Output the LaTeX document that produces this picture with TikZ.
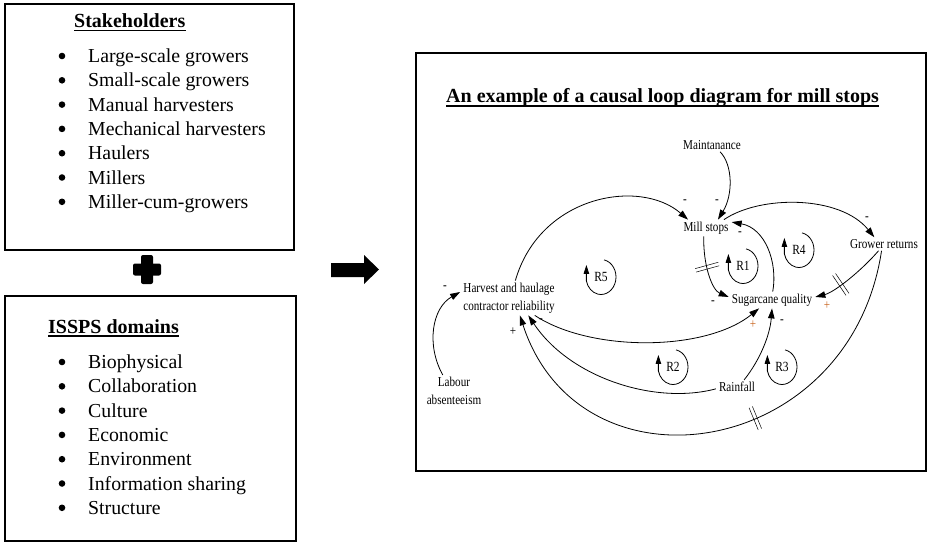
\documentclass[tikz,border=0pt]{standalone}
\usepackage{fontspec}
\setmainfont{Liberation Serif}
\newfontfamily\cldfont[FakeStretch=0.82]{Liberation Serif}
\usetikzlibrary{arrows.meta,decorations.markings}
\definecolor{orng}{RGB}{200,100,30}
\begin{document}
\begin{tikzpicture}[x=1pt,y=1pt,
  boxline/.style={line width=1.3pt},
  listtext/.style={anchor=base west,inner sep=0pt,font=\fontsize{19.8}{24}\selectfont},
  bul/.style={circle,fill=black,inner sep=0pt,minimum size=6.6pt},
  ttl/.style={anchor=base west,inner sep=0pt,font=\bfseries\fontsize{20}{24}\selectfont},
  var/.style={inner xsep=3pt,inner ysep=2pt,align=center,font=\cldfont\fontsize{13.6}{18}\selectfont},
  sgn/.style={inner sep=0pt,font=\cldfont\fontsize{13.6}{16}\selectfont},
  loopl/.style={inner sep=0pt,font=\cldfont\fontsize{14}{16}\selectfont},
  cl/.style={line width=0.8pt,-{Triangle[length=10pt,width=6.5pt]}},
  lp/.style={line width=0.8pt,-{Triangle[length=9pt,width=5.5pt]}},
  dly/.style={postaction={decorate},decoration={markings,
     mark=at position #1 with {\draw[-,line width=0.5pt] (-1.8pt,-12pt)--(-1.8pt,12pt);
                               \draw[-,line width=0.5pt] (1.8pt,-12pt)--(1.8pt,12pt);}}}
]
\useasboundingbox (0,0) rectangle (933,-544);

% ---------- left boxes ----------
\draw[boxline] (5,-4) rectangle (294,-250);
\draw[boxline] (5,-296) rectangle (296,-541);

\node[ttl] (sth) at (74,-27.5) {Stakeholders};
\draw[line width=1.2pt] ([yshift=-3pt]sth.base west) -- ([yshift=-3pt]sth.base east);
\foreach \t [count=\i from 0] in {Large-scale growers,Small-scale growers,Manual harvesters,Mechanical harvesters,Haulers,Millers,Miller-cum-growers}{
  \node[listtext] (st\i) at (88,{-62.5-24.3*\i}) {\t};
  \node[bul] (sb\i) at (62,{-56-24.3*\i}) {};
}

\node[ttl] (ist) at (48,-333) {ISSPS domains};
\draw[line width=1.2pt] ([yshift=-3pt]ist.base west) -- ([yshift=-3pt]ist.base east);
\foreach \t [count=\i from 0] in {Biophysical,Collaboration,Culture,Economic,Environment,Information sharing,Structure}{
  \node[listtext] (is\i) at (88,{-368.5-24.3*\i}) {\t};
  \node[bul] (ib\i) at (62,{-362-24.3*\i}) {};
}

% plus sign
\fill[rounded corners=2pt] (141,-255) rectangle (153,-284);
\fill[rounded corners=2pt] (133,-263.5) rectangle (161,-275.5);

% block arrow
\fill (331,-263) -- (364,-263) -- (364,-255) -- (379,-269.5) -- (364,-284) -- (364,-277) -- (331,-277) -- cycle;

% ---------- right box ----------
\draw[line width=1.6pt] (416,-53) rectangle (926,-471);
\node[ttl] (clt) at (446,-102) {An example of a causal loop diagram for mill stops};
\draw[line width=1.2pt] ([yshift=-4pt]clt.base west) -- ([yshift=-4pt]clt.base east);

% variables
\node[var] (hh) at (509,-298) {Harvest and haulage\\contractor reliability};
\node[var] (la) at (454,-391) {Labour\\absenteeism};
\node[var] (mt) at (712,-145) {Maintanance};
\node[var] (ms) at (706,-228) {Mill stops};
\node[var] (gr) at (884,-244) {Grower returns};
\node[var] (sq) at (772,-300) {Sugarcane quality};
\node[var] (rf) at (737,-387) {Rainfall};

% links
\draw[cl] (la.125) .. controls (426,-345) and (432,-308) .. (hh.173);
\draw[cl] (hh.70) .. controls (540,-195) and (640,-178) .. (ms.155);
\draw[cl] (mt.-40) .. controls (733,-165) and (733,-195) .. (ms.35);
\draw[cl] (ms.25) .. controls (760,-195) and (840,-195) .. (gr.145);
\draw[cl,dly=0.45] (ms.-105) .. controls (703,-265) and (712,-290) .. (sq.176);
\draw[cl] (sq.85) .. controls (778,-262) and (765,-228) .. (ms.13);
\draw[cl,dly=0.64] (gr.-129) .. controls (862,-270) and (835,-292) .. (sq.4);
\draw[cl,dly=0.43] (gr.-110) .. controls (850,-460) and (580,-500) .. (hh.-58);
\draw[cl] (hh.-34) .. controls (590,-352) and (705,-352) .. (sq.-147);
\draw[cl] (rf.45) .. controls (760,-360) and (770,-335) .. (sq.-90);
\draw[cl] (rf.185) .. controls (655,-405) and (570,-378) .. (hh.-42);

% polarity signs
\node[sgn] (p1) at (445,-288) {-};
\node[sgn] (p2) at (685,-202) {-};
\node[sgn] (p3) at (717,-202) {-};
\node[sgn] (p4) at (740,-234) {-};
\node[sgn] (p5) at (867,-219) {-};
\node[sgn] (p6) at (713,-303) {-};
\node[sgn,text=orng] (p7) at (827,-306) {+};
\node[sgn,text=orng] (p8) at (753,-325) {+};
\node[sgn] (p9) at (782,-322) {-};
\node[sgn] (p10) at (541,-321) {-};
\node[sgn] (p11) at (513,-332) {+};

% loop markers
\foreach \n/\x/\y in {R1/743/-266,R2/673/-367,R3/782/-367,R4/799/-250,R5/601/-277}{
  \node[loopl] (\n) at (\x,\y) {\n};
  \draw[lp] (\n.center) ++(78:15 and 17.5) arc[start angle=78,end angle=-167,x radius=15,y radius=17.5] -- ++(0,16);
}
\end{tikzpicture}
\end{document}
